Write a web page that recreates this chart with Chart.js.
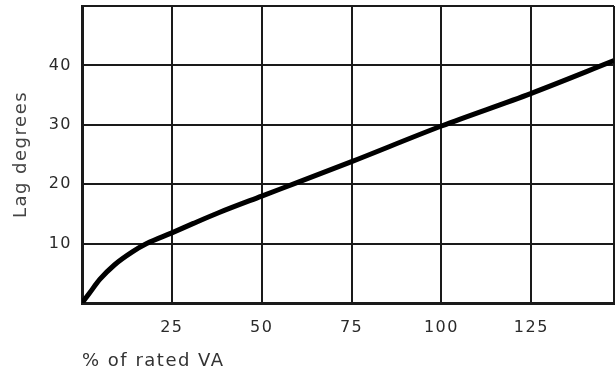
<!DOCTYPE html>
<html>
<head>
<meta charset="utf-8">
<style>
  html, body { margin: 0; padding: 0; background: #fff; }
  #wrap { width: 616px; height: 377px; }
</style>
<script src="https://cdn.jsdelivr.net/npm/chart.js@4"></script>
</head>
<body>
<div id="wrap"><canvas id="lagChart" width="616" height="377"></canvas></div>
<script>
// % of rated VA vs lag in degrees
const loadPct = [0, 2, 5, 9, 14, 18, 25, 31, 38, 50, 60, 75, 100, 125, 148];
const lagDeg = [0, 1.6, 4.0, 6.4, 8.6, 10.0, 11.8, 13.4, 15.2, 18.0, 20.3, 23.8, 29.8, 35.3, 40.8];
const xTicks = [25, 50, 75, 100, 125];
const yTicks = [10, 20, 30, 40];

const ink = "#1a1a1a";
const tickFont = { family: "'DejaVu Sans', sans-serif", size: 16 };
const titleFont = { family: "'DejaVu Sans', sans-serif", size: 18 };

const points = loadPct.map((x, i) => ({ x, y: lagDeg[i] }));

// the scan's lettering is widely spaced
const spacing = {
  id: "spacing",
  beforeDraw(chart) {
    chart.ctx.letterSpacing = "1.5px";
  },
};

const ctx = document.getElementById("lagChart").getContext("2d");
new Chart(ctx, {
  type: "line",
  data: {
    datasets: [
      {
        label: "Lag",
        data: points,
        borderColor: "#000",
        borderWidth: 5,
        pointRadius: 0,
        cubicInterpolationMode: "monotone",
        fill: false,
      },
    ],
  },
  options: {
    responsive: false,
    animation: false,
    layout: { padding: { top: 6, right: 2, left: 0, bottom: 0 } },
    plugins: {
      legend: { display: false },
      tooltip: { enabled: false },
    },
    scales: {
      x: {
        type: "linear",
        min: 0,
        max: 148,
        afterFit: (s) => {
          s.height = 74;
          s.paddingLeft = 0;
          s.paddingRight = 0;
        },
        ticks: {
          stepSize: 25,
          color: "#2a2a2a",
          font: tickFont,
          padding: 15,
          callback: (v) => (xTicks.includes(v) ? v : ""),
        },
        grid: { color: ink, lineWidth: 2, drawTicks: false },
        border: { color: ink, width: 3 },
        title: {
          display: true,
          text: "% of rated VA",
          align: "start",
          color: "#333",
          font: titleFont,
          padding: { top: 0, bottom: 5 },
        },
      },
      y: {
        min: 0,
        max: 50,
        afterFit: (s) => {
          s.width = 82;
          s.paddingTop = 0;
          s.paddingBottom = 0;
        },
        ticks: {
          stepSize: 10,
          color: "#2a2a2a",
          font: tickFont,
          padding: 10,
          callback: (v) => (yTicks.includes(v) ? v : ""),
        },
        grid: { color: ink, lineWidth: 2, drawTicks: false },
        border: { color: ink, width: 3 },
        title: {
          display: true,
          text: "Lag degrees",
          color: "#444",
          font: titleFont,
          padding: { top: 11, bottom: 0 },
        },
      },
    },
  },
  plugins: [spacing],
});
</script>
</body>
</html>
